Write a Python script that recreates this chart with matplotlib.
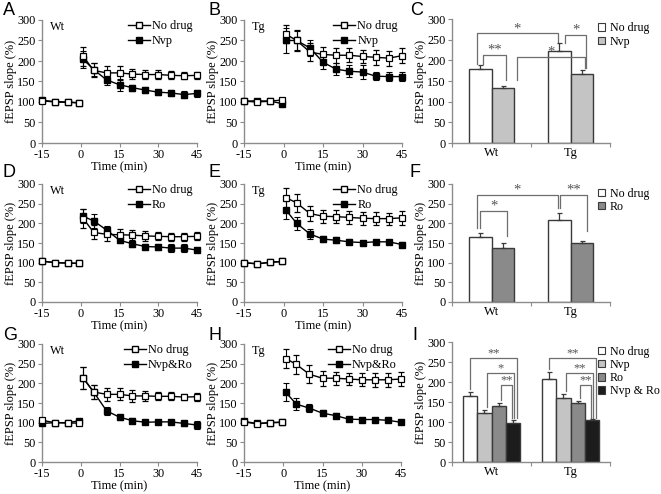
import matplotlib
matplotlib.use("Agg")
import matplotlib.pyplot as plt
from matplotlib.lines import Line2D
from matplotlib.patches import Patch
import numpy as np

plt.rcParams['font.family'] = ['Liberation Serif', 'DejaVu Serif']
plt.rcParams['font.size'] = 8.5
plt.rcParams['axes.unicode_minus'] = False

# ---------------- data ----------------
time_base = [-15, -10, -5, -0.5]
time_post = [1, 5, 10, 15, 20, 25, 30, 35, 40, 45]

# Panel A (Wt, Nvp)
A_nd_base = [103, 100, 99, 98]
A_nd_post = [211, 177, 171, 171, 168, 167, 167, 165, 164, 165]
A_nd_post_err = [22, 17, 17, 17, 13, 12, 10, 10, 8, 9]
A_dr_base = [104, 101, 100, 98]
A_dr_post = [204, 179, 154, 142, 135, 129, 124, 122, 118, 121]
A_dr_post_err = [20, 15, 12, 15, 7, 7, 6, 7, 8, 8]

# Panel B (Tg, Nvp)
B_nd_base = [102, 100, 102, 105]
B_nd_post = [265, 250, 222, 216, 214, 214, 211, 209, 207, 213]
B_nd_post_err = [22, 25, 22, 18, 18, 17, 17, 18, 18, 18]
B_dr_base = [102, 103, 102, 96]
B_dr_post = [250, 250, 232, 197, 180, 175, 173, 163, 162, 162]
B_dr_post_err = [30, 22, 20, 17, 15, 15, 18, 10, 10, 12]

# Panel D (Wt, Ro)
D_nd_base = [104, 100, 99, 98]
D_nd_post = [212, 177, 172, 171, 170, 168, 167, 166, 166, 167]
D_nd_post_err = [25, 18, 18, 15, 13, 12, 10, 10, 10, 10]
D_dr_base = [104, 100, 99, 98]
D_dr_post = [218, 206, 183, 157, 148, 141, 140, 137, 137, 132]
D_dr_post_err = [18, 18, 10, 8, 7, 6, 8, 10, 10, 6]

# Panel E (Tg, Ro)
E_nd_base = [100, 97, 101, 103]
E_nd_post = [265, 252, 225, 218, 217, 215, 213, 212, 212, 214]
E_nd_post_err = [25, 22, 20, 17, 17, 17, 17, 17, 15, 17]
E_dr_base = [100, 97, 101, 103]
E_dr_post = [233, 200, 173, 160, 157, 153, 151, 153, 153, 146]
E_dr_post_err = [23, 17, 12, 8, 7, 6, 5, 5, 5, 6]

# Panel G (Wt, Nvp&Ro)
G_nd_base = [106, 100, 99, 99]
G_nd_post = [213, 178, 172, 172, 168, 168, 167, 167, 165, 166]
G_nd_post_err = [28, 17, 17, 15, 15, 13, 10, 10, 8, 10]
G_dr_base = [98, 100, 100, 105]
G_dr_post = [213, 178, 130, 114, 105, 101, 102, 102, 98, 94]
G_dr_post_err = [28, 17, 10, 6, 6, 5, 5, 6, 6, 9]

# Panel H (Tg, Nvp&Ro)
H_nd_base = [102, 97, 100, 101]
H_nd_post = [263, 248, 223, 213, 213, 211, 209, 209, 209, 211]
H_nd_post_err = [25, 24, 23, 19, 17, 16, 17, 18, 18, 18]
H_dr_base = [103, 98, 100, 101]
H_dr_post = [177, 147, 137, 124, 118, 109, 108, 108, 106, 101]
H_dr_post_err = [23, 15, 10, 7, 6, 4, 4, 4, 4, 4]

# Bar panels
groups = ['Wt', 'Tg']
C_labels = ['No drug', 'Nvp']
C_vals = [[178, 132], [222, 166]]
C_errs = [[11, 7], [20, 11]]
F_labels = ['No drug', 'Ro']
F_vals = [[166, 138], [208, 149]]
F_errs = [[10, 11], [17, 6]]
I_labels = ['No drug', 'Nvp', 'Ro', 'Nvp & Ro']
I_vals = [[164, 122, 139, 98], [208, 160, 147, 104]]
I_errs = [[10, 7, 9, 8], [17, 10, 6, 3]]

col_nd = 'white'
col_nvp = '#c4c4c4'
col_ro = '#8a8a8a'
col_nr = '#1c1c1c'

W, H = 661, 494
fig = plt.figure(figsize=(W / 100, H / 100), dpi=100)


def add_ax(x0, y0, x1, y1):
    return fig.add_axes([x0 / W, 1 - y1 / H, (x1 - x0) / W, (y1 - y0) / H])


spine_col = '#8c8c8c'


def style_ax(ax):
    for s in ['top', 'right']:
        ax.spines[s].set_visible(False)
    for s in ['left', 'bottom']:
        ax.spines[s].set_color(spine_col)
        ax.spines[s].set_linewidth(1.0)
    ax.tick_params(direction='out', length=3, width=0.8, color=spine_col,
                   labelsize=8.8, pad=1.5)
    ax.set_ylim(0, 300)
    ax.set_yticks(range(0, 301, 50))


def ts_panel(box, genotype, drug_name, nd_b, nd_p, nd_pe, dr_b, dr_p, dr_pe):
    ax = add_ax(*box)
    style_ax(ax)
    ekw = dict(ecolor='black', elinewidth=0.8, capsize=2.2, capthick=0.8)
    # drug
    ax.plot(time_base, dr_b, '-', color='black', lw=1, marker='s', ms=4.5,
            mfc='black', mec='black', clip_on=False, zorder=3)
    ax.errorbar(time_post, dr_p, yerr=dr_pe, fmt='-s', color='black', lw=1,
                ms=4.5, mfc='black', mec='black', clip_on=False, zorder=3, **ekw)
    # no drug
    ax.plot(time_base, nd_b, '-', color='black', lw=1, marker='s', ms=4.5,
            mfc='white', mec='black', mew=0.9, clip_on=False, zorder=4)
    ax.errorbar(time_post, nd_p, yerr=nd_pe, fmt='-s', color='black', lw=1,
                ms=4.5, mfc='white', mec='black', mew=0.9, clip_on=False, zorder=4, **ekw)
    ax.set_xlim(-15, 45)
    ax.set_xticks([-15, 0, 15, 30, 45])
    ax.set_ylabel('fEPSP slope (%)', labelpad=0, fontsize=9)
    ax.set_xlabel('Time (min)', labelpad=0, fontsize=9)
    ax.text(-12, 282, genotype, ha='left', va='center', fontsize=8.8)
    handles = [Line2D([], [], color='black', lw=1, marker='s', ms=4.5, mfc='white', mec='black'),
               Line2D([], [], color='black', lw=1, marker='s', ms=4.5, mfc='black', mec='black')]
    ax.legend(handles, ['No drug', drug_name], loc='upper right', bbox_to_anchor=(1.02, 1.06),
              frameon=False, handlelength=1.8, handletextpad=0.2, labelspacing=0.25,
              borderaxespad=0.2, fontsize=8.8)
    return ax


def bracket(ax, x1, x2, y1, y2, top, label, fs=10.5):
    c = '#6e6e6e'
    ax.plot([x1, x1, x2, x2], [y1, top, top, y2], color=c, lw=0.9, clip_on=False)
    ax.text((x1 + x2) / 2, top - 4, label, ha='center', va='bottom', fontsize=fs, color='#555555')


def bar_panel(box, labels, vals, errs, colors, width):
    ax = add_ax(*box)
    style_ax(ax)
    n = len(labels)
    centers = [0.5, 1.5]
    xs = {}
    for gi, g in enumerate(groups):
        for k in range(n):
            x = centers[gi] + (k - (n - 1) / 2) * width
            xs[(gi, k)] = x
            ax.bar(x, vals[gi][k], width=width, color=colors[k], edgecolor='#3a3a3a', lw=1.0, zorder=2)
            ax.errorbar(x, vals[gi][k], yerr=[[0], [errs[gi][k]]], fmt='none', ecolor='#3a3a3a',
                        elinewidth=0.9, capsize=1.8, capthick=0.9, zorder=3)
    ax.set_xlim(0, 2)
    ax.set_xticks([0, 1, 2])
    ax.set_xticklabels([])
    ax.set_xticks(centers, minor=True)
    ax.set_xticklabels(groups, minor=True)
    ax.tick_params(axis='x', which='minor', length=0, labelsize=9, pad=3)
    ax.set_ylabel('fEPSP slope (%)', labelpad=0, fontsize=9)
    handles = [Patch(facecolor=colors[k], edgecolor='#3a3a3a', lw=0.8) for k in range(n)]
    ax.legend(handles, labels, loc='upper left', bbox_to_anchor=(0.88, 1.03), frameon=False,
              handlelength=0.6, handleheight=0.6, handletextpad=0.35, labelspacing=0.1,
              fontsize=8.6, borderaxespad=0.2)
    return ax, xs


# Row 1
ts_panel((42, 20, 197, 143), 'Wt', 'Nvp', A_nd_base, A_nd_post, A_nd_post_err,
         A_dr_base, A_dr_post, A_dr_post_err)
ts_panel((244, 20, 402, 143), 'Tg', 'Nvp', B_nd_base, B_nd_post, B_nd_post_err,
         B_dr_base, B_dr_post, B_dr_post_err)
axC, xs = bar_panel((452, 19, 610, 143), C_labels, C_vals, C_errs, [col_nd, col_nvp], 0.285)
bracket(axC, xs[(0, 0)] - 0.04, xs[(1, 0)] - 0.02, 190, 243, 265, '*')
bracket(axC, xs[(0, 0)] + 0.04, xs[(0, 1)] + 0.04, 190, 153, 212, '**')
bracket(axC, xs[(0, 1)] + 0.18, xs[(1, 1)] + 0.04, 152, 182, 208, '*')
bracket(axC, xs[(1, 0)] + 0.07, xs[(1, 1)] + 0.06, 243, 182, 261, '*')

# Row 2
ts_panel((42, 184, 197, 302), 'Wt', 'Ro', D_nd_base, D_nd_post, D_nd_post_err,
         D_dr_base, D_dr_post, D_dr_post_err)
ts_panel((244, 184, 402, 302), 'Tg', 'Ro', E_nd_base, E_nd_post, E_nd_post_err,
         E_dr_base, E_dr_post, E_dr_post_err)
axF, xs = bar_panel((452, 184, 610, 302), F_labels, F_vals, F_errs, [col_nd, col_ro], 0.285)
bracket(axF, xs[(0, 0)] - 0.04, xs[(1, 0)] - 0.02, 187, 238, 272, '*')
bracket(axF, xs[(0, 0)] + 0.0, xs[(0, 1)] + 0.06, 187, 167, 232, '*')
bracket(axF, xs[(1, 0)] + 0.01, xs[(1, 1)] + 0.07, 238, 180, 272, '**')

# Row 3
ts_panel((42, 344, 197, 462), 'Wt', 'Nvp&Ro', G_nd_base, G_nd_post, G_nd_post_err,
         G_dr_base, G_dr_post, G_dr_post_err)
ts_panel((244, 344, 401, 462), 'Tg', 'Nvp&Ro', H_nd_base, H_nd_post, H_nd_post_err,
         H_dr_base, H_dr_post, H_dr_post_err)
axI, xs = bar_panel((452, 342, 610, 462), I_labels, I_vals, I_errs,
                    [col_nd, col_nvp, col_ro, col_nr], 0.18)
for gi in range(2):
    base = xs[(gi, 3)]
    tops = [(260, 0), (222, 1), (192, 2)]
    offs = [0.05, 0.02, -0.01]
    for (top, k), off in zip(tops, offs):
        lbl = '*' if (gi == 0 and k == 1) else '**'
        y1 = I_vals[gi][k] + I_errs[gi][k] + 8
        bracket(axI, xs[(gi, k)] + (0.0 if k == 0 else 0.03), base + off, y1, 110, top, lbl, fs=9)

# Panel letters
letters = [('A', 3, 2), ('B', 208, 2), ('C', 410, 2),
           ('D', 3, 164), ('E', 208, 164), ('F', 410, 164),
           ('G', 3, 327), ('H', 208, 327), ('I', 412, 327)]
for t, x, y in letters:
    fig.text(x / W, 1 - y / H, t, ha='left', va='top', fontsize=13,
             family=['Liberation Sans', 'DejaVu Sans'])

fig.savefig('out.png', dpi=100)
